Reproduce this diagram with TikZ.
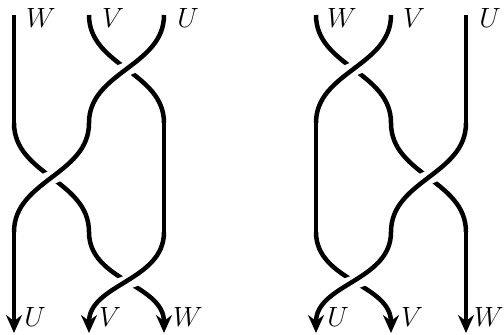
\documentclass[tikz,border=0pt]{standalone}
\usepackage{tikz}
\usetikzlibrary{positioning,arrows.meta}

\begin{document}
\begin{tikzpicture}[x=1pt,y=-1pt,
          strand/.style={draw=black,line width=4.5pt},
          tip/.style={-{Stealth[length=18pt,width=16pt,inset=6pt]}},
          over/.style={preaction={draw=white,line width=14pt,arrows=-,
                                  shorten <=24pt,shorten >=24pt}},
          lbl/.style={inner sep=0pt,font=\Huge,scale=1.12}]
        \useasboundingbox (0,0) rectangle (504,335);
        % strand ends: column a,b,c ; level 0..3
        \foreach \c/\x in {a/14,b/89,c/164}{
          \foreach \r/\y in {0/15,1/123,2/232,3/333}{
            \coordinate (L\c\r) at (\x,\y);
            \coordinate (R\c\r) at (\x+302,\y);
          }
        }
        % left braid
        \draw[strand] (La0) -- (La1);
        \draw[strand] (Lb0) to[out=-90,in=90] (Lc1);
        \draw[strand,over] (Lc0) to[out=-90,in=90] (Lb1);
        \draw[strand] (Lc1) -- (Lc2);
        \draw[strand] (La1) to[out=-90,in=90] (Lb2);
        \draw[strand,over] (Lb1) to[out=-90,in=90] (La2);
        \draw[strand,tip] (La2) -- (La3);
        \draw[strand,tip] (Lb2) to[out=-90,in=90] (Lc3);
        \draw[strand,tip,over] (Lc2) to[out=-90,in=90] (Lb3);
        % right braid
        \draw[strand] (Rc0) -- (Rc1);
        \draw[strand] (Ra0) to[out=-90,in=90] (Rb1);
        \draw[strand,over] (Rb0) to[out=-90,in=90] (Ra1);
        \draw[strand] (Ra1) -- (Ra2);
        \draw[strand] (Rb1) to[out=-90,in=90] (Rc2);
        \draw[strand,over] (Rc1) to[out=-90,in=90] (Rb2);
        \draw[strand,tip] (Rc2) -- (Rc3);
        \draw[strand,tip] (Ra2) to[out=-90,in=90] (Rb3);
        \draw[strand,tip,over] (Rb2) to[out=-90,in=90] (Ra3);
        % labels
        \node[lbl] (lw) at ([xshift=27pt,yshift=-3pt]La0) {$W$};
        \node[lbl] (lv) at ([xshift=24pt,yshift=-3pt]Lb0) {$V$};
        \node[lbl] (lu) at ([xshift=24pt,yshift=-3pt]Lc0) {$U$};
        \node[lbl] (lu') at ([xshift=21pt,yshift=16pt]La3) {$U$};
        \node[lbl] (lv') at ([xshift=21pt,yshift=16pt]Lb3) {$V$};
        \node[lbl] (lw') at ([xshift=24pt,yshift=16pt]Lc3) {$W$};
        \node[lbl] (rw) at ([xshift=26pt,yshift=-3pt]Ra0) {$W$};
        \node[lbl] (rv) at ([xshift=23pt,yshift=-3pt]Rb0) {$V$};
        \node[lbl] (ru) at ([xshift=24pt,yshift=-3pt]Rc0) {$U$};
        \node[lbl] (ru') at ([xshift=22pt,yshift=16pt]Ra3) {$U$};
        \node[lbl] (rv') at ([xshift=21pt,yshift=16pt]Rb3) {$V$};
        \node[lbl] (rw') at ([xshift=23pt,yshift=16pt]Rc3) {$W$};
      \end{tikzpicture}
\end{document}
